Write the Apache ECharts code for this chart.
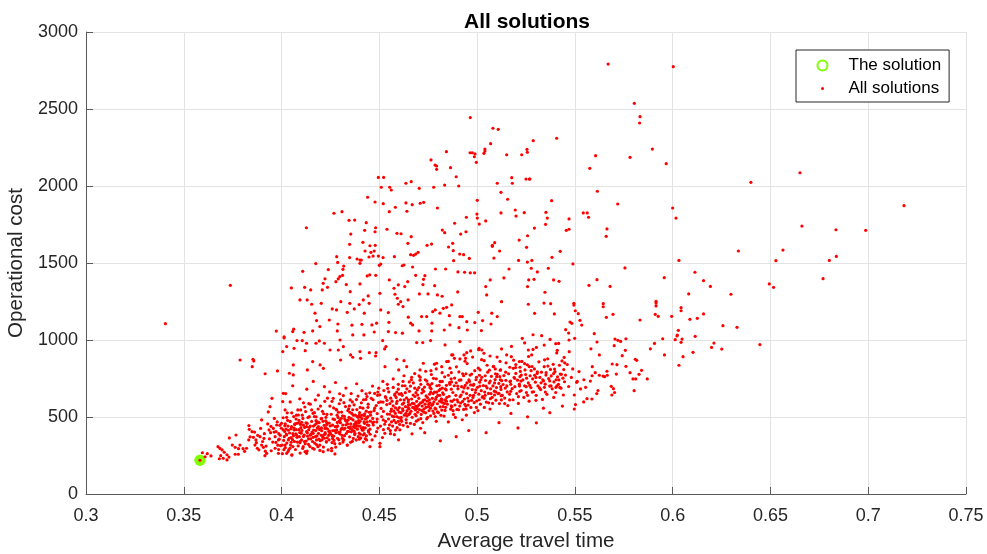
<!DOCTYPE html>
<html>
<head>
<meta charset="utf-8">
<script src="https://cdn.jsdelivr.net/npm/echarts@6/dist/echarts.min.js"></script>
<style>
  html, body { margin: 0; padding: 0; background: #fff; }
  #chart { width: 987px; height: 554px; }
</style>
</head>
<body>
<div id="chart"></div>
<script>
// x tick values of the axis
const xTicks = [0.3, 0.35, 0.4, 0.45, 0.5, 0.55, 0.6, 0.65, 0.7, 0.75];
const yTicks = [0, 500, 1000, 1500, 2000, 2500, 3000];

// the chosen solution [travel time, cost]
const solution = [[0.3583, 219]];

// sparse points, upper part of the cloud
const upperPoints = [
  [0.567,2792],[0.6003,2775],[0.5804,2537],[0.5833,2450],[0.5831,2409],[0.5287,2294],[0.5407,2310],[0.5896,2240],
  [0.5606,2197],[0.5782,2186],[0.5967,2145],[0.5576,2115],[0.527,2045],[0.640,2024],[0.5615,1966],[0.5381,1905],
  [0.5719,1883],[0.5352,1829],[0.5543,1825],[0.5563,1825],[0.5359,1792],[0.547,1786],[0.557,1797],[0.600,1857],
  [0.6017,1792],[0.6651,2086],[0.7183,1872],[0.6661,1740],[0.6835,1716],[0.6987,1712],[0.6564,1584],[0.6528,1515],
  [0.6837,1543],[0.6801,1517],[0.6769,1398],[0.6494,1364],[0.6516,1342],[0.6446,970],[0.3738,1355],[0.3406,1106],
  [0.3973,1058],[0.4965,2444],[0.5081,2375],[0.5108,2368],[0.5069,2275],[0.4843,2223],[0.4964,2216],[0.4975,2216],
  [0.4989,2208],[0.4986,2190],[0.5035,2212],[0.504,2227],[0.504,2240],[0.5151,2203],[0.5228,2203],[0.5255,2238],
  [0.5257,2219],[0.4996,2154],[0.4764,2169],[0.4785,2136],[0.4793,2130],[0.4793,2108],[0.4864,2119],[0.4893,2060],
  [0.5177,2054],[0.518,2018],[0.525,2045],[0.5267,2045],[0.4495,2056],[0.4522,2056],[0.451,1992],[0.4553,1992],
  [0.4561,1974],[0.4636,2018],[0.4663,2028],[0.4704,1985],[0.4778,1992],[0.4834,2006],[0.4906,2000],[0.5103,2018],
  [0.5122,1959],[0.444,1927],[0.4478,1896],[0.452,1885],[0.4582,1862],[0.4551,1833],[0.4636,1890],[0.4668,1879],
  [0.4709,1888],[0.4727,1894],[0.4641,1836],[0.4797,1857],[0.5001,1907],[0.5156,1914],[0.5122,1825],[0.5195,1844],
  [0.5199,1805],[0.5241,1827],[0.4268,1823],[0.4309,1833],[0.4345,1777],[0.4374,1779],[0.4433,1762],[0.4481,1729],
  [0.4478,1703],[0.4425,1712],[0.4127,1729],[0.4354,1688],[0.4539,1719],[0.459,1693],[0.4611,1690],[0.4663,1671],
  [0.4646,1628],[0.4822,1714],[0.4834,1697],[0.4885,1758],[0.4945,1797],[0.4943,1703],[0.4999,1818],[0.5001,1792],
  [0.5011,1753],[0.5044,1773],[0.4916,1688],[0.4875,1628],[0.4854,1604],[0.4767,1623],[0.4744,1615],[0.4878,1580],
  [0.4911,1558],[0.4931,1554],[0.496,1530],[0.488,1515],[0.5078,1615],[0.509,1632],[0.5078,1608],[0.5115,1578],
  [0.5086,1532],[0.5215,1649],[0.5253,1602],[0.5258,1677],[0.5212,1517],[0.5257,1506],[0.5163,1461],[0.466,1554],
  [0.4675,1550],[0.4686,1558],[0.4698,1569],[0.4577,1541],[0.4617,1482],[0.4626,1487],[0.467,1474],[0.4787,1461],
  [0.4839,1461],[0.4348,1621],[0.4416,1634],[0.4452,1612],[0.4479,1615],[0.4457,1569],[0.4474,1578],[0.4468,1545],
  [0.4447,1539],[0.4495,1545],[0.4507,1493],[0.45,1485],[0.4519,1535],[0.4348,1535],[0.4282,1541],[0.4287,1504],
  [0.4386,1526],[0.4401,1519],[0.4408,1519],[0.4401,1498],[0.4318,1480],[0.4314,1459],[0.4175,1496],[0.4239,1457],
  [0.4427,1578]
];

// right-hand middle part (x above ~0.527)
const rightPoints = [
  [0.5293,1727],[0.535,1751],[0.5456,1712],[0.547,1719],[0.5664,1721],[0.566,1673],[0.6336,1578],[0.5425,1576],
  [0.5383,1537],[0.528,1517],[0.6032,1517],[0.549,1494],[0.5277,1466],[0.5308,1442],[0.5364,1466],[0.5756,1468],
  [0.6114,1440],[0.5957,1405],[0.5291,1394],[0.5391,1390],[0.5419,1381],[0.5613,1392],[0.6158,1385],[0.5572,1355],
  [0.568,1348],[0.6193,1348],[0.5347,1310],[0.6298,1297],[0.6082,1299],[0.5342,1240],[0.5376,1236],[0.5495,1238],
  [0.5495,1227],[0.5645,1236],[0.5645,1216],[0.5915,1251],[0.5915,1240],[0.5915,1221],[0.6043,1210],[0.6043,1190],
  [0.5294,1173],[0.5395,1169],[0.5502,1190],[0.5517,1171],[0.5695,1167],[0.5661,1147],[0.5911,1167],[0.5926,1154],
  [0.5995,1154],[0.6088,1134],[0.6126,1141],[0.6158,1169],[0.5833,1130],[0.5526,1128],[0.5535,1097],[0.5475,1117],
  [0.5484,1108],[0.6257,1093],[0.6329,1082],[0.5453,1067],[0.6029,1063],[0.6024,1032],[0.6022,1026],[0.6115,1024],
  [0.5599,1041],[0.5468,1045],[0.533,1028],[0.5286,1034],[0.5499,1011],[0.547,1000],[0.5373,1004],[0.5705,1006],
  [0.572,998],[0.5734,991],[0.5761,1008],[0.5949,1008],[0.6013,1002],[0.6048,1006],[0.6043,985],[0.6211,980],
  [0.6199,952],[0.6251,941],[0.5613,987],[0.5402,976],[0.5417,978],[0.5343,967],[0.5286,939],[0.541,933],
  [0.5471,924],[0.5582,943],[0.5701,963],[0.5758,933],[0.5886,943],[0.5907,978],[0.5958,903],[0.6104,920],
  [0.6053,892],[0.6032,836],[0.5625,903],[0.5742,898],[0.5809,875],[0.5816,868],[0.5691,844],[0.5715,840],
  [0.5589,827],[0.5761,829],[0.5841,803],[0.5782,788],[0.5664,797],[0.5666,771],[0.5652,762],[0.5644,766],
  [0.5604,788],[0.5588,768],[0.5625,771],[0.5712,779],[0.5828,777],[0.5797,747],[0.5811,747],[0.587,747],
  [0.5686,699],[0.5697,684],[0.5555,693],[0.5509,725],[0.5403,693],[0.5612,652],[0.5587,617],[0.5689,643],
  [0.5545,598],[0.5503,581]
];

// middle scatter between the band and the upper points
const midPoints = [
  [0.4108,1446],[0.4222,1397],[0.4278,1379],[0.429,1397],[0.4298,1412],[0.4312,1420],[0.4213,1368],[0.4235,1342],
  [0.4208,1325],[0.4331,1360],[0.4351,1314],[0.4401,1364],[0.4438,1416],[0.4451,1423],[0.4482,1420],[0.405,1338],
  [0.4118,1342],[0.4149,1325],[0.4551,1390],[0.4597,1358],[0.4575,1336],[0.4645,1379],[0.463,1347],[0.4686,1420],
  [0.4733,1418],[0.4726,1394],[0.4723,1360],[0.4783,1353],[0.4902,1442],[0.4936,1440],[0.4965,1436],[0.4987,1436],
  [0.5067,1390],[0.5137,1403],[0.5044,1347],[0.5264,1390],[0.5258,1347],[0.4901,1312],[0.4821,1284],[0.4797,1293],
  [0.4749,1299],[0.4705,1299],[0.458,1297],[0.4592,1271],[0.4597,1232],[0.4609,1249],[0.4621,1217],[0.4647,1260],
  [0.4503,1303],[0.4443,1286],[0.4418,1260],[0.4448,1238],[0.4397,1230],[0.4349,1238],[0.4303,1249],[0.4203,1238],
  [0.4154,1232],[0.4131,1260],[0.4094,1260],[0.4259,1202],[0.4281,1195],[0.4336,1180],[0.4372,1202],[0.4423,1174],
  [0.4507,1195],[0.4546,1178],[0.4171,1174],[0.4179,1126],[0.4244,1130],[0.4288,1104],[0.4196,1087],[0.4159,1059],
  [0.4115,1050],[0.4062,1070],[0.4057,1055],[0.436,1096],[0.4411,1102],[0.4462,1098],[0.4486,1109],[0.4474,1052],
  [0.4421,1033],[0.4364,1033],[0.4285,1059],[0.4549,1115],[0.4546,1055],[0.4583,1048],[0.4618,1044],[0.4648,1148],
  [0.466,1109],[0.467,1098],[0.4703,1059],[0.4716,1152],[0.4742,1152],[0.4773,1184],[0.4786,1195],[0.4827,1206],
  [0.4844,1212],[0.487,1228],[0.481,1174],[0.4858,1158],[0.4769,1109],[0.4768,1059],[0.4832,1065],[0.4861,1098],
  [0.4912,1152],[0.4924,1152],[0.4947,1119],[0.4907,1080],[0.495,1065],[0.4988,1113],[0.5006,1180],[0.5028,1126],
  [0.5075,1174],[0.5071,1104],[0.5103,1152],[0.5125,1249],[0.5049,1293],[0.5262,1232],[0.5231,1011],[0.5022,1061],
  [0.4006,925],[0.4026,957],[0.4064,946],[0.4079,996],[0.4106,996],[0.4121,931],[0.4128,979],[0.4176,979],
  [0.4193,994],[0.4219,979],[0.4248,935],[0.4299,1000],[0.429,935],[0.4316,957],[0.4302,870],[0.4197,838],
  [0.4214,816],[0.4159,860],[0.4132,806],[0.406,838],[0.404,784],[0.406,773],[0.4353,903],[0.4364,888],
  [0.4404,881],[0.4401,925],[0.4449,918],[0.4483,918],[0.4481,896],[0.4517,996],[0.4534,957],[0.4527,942],
  [0.4589,875],[0.4626,866],[0.4529,827],[0.4599,806],[0.464,827],[0.4691,983],[0.4722,983],[0.4762,996],
  [0.4836,968],[0.4844,860],[0.487,903],[0.4884,881],[0.4912,990],[0.4933,903],[0.4941,881],[0.4967,929],
  [0.501,946],[0.5024,935],[0.5035,914],[0.5066,896],[0.5125,942],[0.5151,903],[0.5216,860],[0.5262,935],
  [0.4725,849],[0.4793,849],[0.4819,827],[0.4764,801],[0.4708,806],[0.4665,758],[0.5015,806],[0.5083,827],
  [0.512,806],[0.5185,816],[0.5219,823],[0.5245,806],[0.5267,827],[0.51,762],[0.5168,730],[0.5219,762],
  [0.3788,870],[0.3854,875],[0.3858,864],[0.385,827],[0.3916,781],[0.3979,799],[0.4013,1021],[0.4013,1013],
  [0.4021,652],[0.4057,703],[0.4093,618],[0.4129,681],[0.4162,731],[0.4188,642],[0.4219,697],[0.4246,663],
  [0.4276,724],[0.4302,611],[0.4329,688],[0.4356,652],[0.4384,716],[0.4411,671],[0.4437,633],[0.4465,701],
  [0.4492,662],[0.4518,731],[0.4543,686],[0.4571,747],[0.4597,712],[0.4626,768],[0.4653,728],[0.4681,782],
  [0.4709,758],[0.4737,797],[0.4766,776],[0.4791,812],[0.4821,788],[0.4853,861],[0.4876,903],[0.4912,877],
  [0.4947,918],[0.4977,889],[0.5008,937],[0.4044,598],[0.4112,592],[0.4173,611],[0.4235,622],[0.4297,651],
  [0.4362,598],[0.4419,612],[0.4476,653],[0.4531,632],[0.4589,661],[0.4641,683],[0.4702,691],[0.4758,706],
  [0.4811,731],[0.4867,748],[0.4926,781],[0.4988,801],[0.5051,836],[0.5117,861],[0.5176,958],[0.5243,981],
  [0.5303,952]
];

// dense band, left part (x up to ~0.455)
const bandLeft = [
  [0.3595,268],[0.362,262],[0.3609,242],[0.3639,247],[0.3675,307],[0.3685,296],[0.3696,286],[0.3707,271],
  [0.3689,249],[0.3682,229],[0.3702,232],[0.3721,255],[0.3731,240],[0.3721,221],[0.3733,364],[0.3767,383],
  [0.3748,318],[0.3763,303],[0.378,294],[0.3803,294],[0.3811,277],[0.3779,258],[0.3763,258],[0.3787,318],
  [0.3832,351],[0.3835,420],[0.3849,405],[0.3833,444],[0.3869,351],[0.3864,318],[0.3876,297],[0.3821,297],
  [0.3856,368],[0.389,372],[0.3898,318],[0.3907,303],[0.3915,249],[0.3924,264],[0.391,361],[0.3936,416],
  [0.3944,398],[0.3898,481],[0.3932,533],[0.3951,621],[0.3941,567],[0.3967,372],[0.3984,351],[0.3995,314],
  [0.3967,297],[0.3984,264],[0.3958,426],[0.3975,448],[0.4,459],[0.4009,654],[0.4006,600],[0.4018,546],
  [0.4026,498],[0.4009,416],[0.4026,383],[0.4035,351],[0.4018,318],[0.4043,297],[0.4026,264],[0.4052,253],
  [0.4064,416],[0.4077,459],[0.4086,513],[0.4098,546],[0.4077,383],[0.4094,340],[0.4111,307],[0.412,275],
  [0.4128,437],[0.4142,502],[0.4154,546],[0.4162,394],[0.4179,351],[0.4196,318],[0.4213,275],[0.4179,459],
  [0.4205,491],[0.4222,426],[0.4248,394],[0.4261,361],[0.4256,297],[0.4282,416],[0.4299,481],[0.4282,546],
  [0.4316,351],[0.4336,318],[0.435,426],[0.4375,394],[0.4384,459],[0.4398,513],[0.4418,416],[0.4435,351],
  [0.4452,307],[0.4469,448],[0.4486,405],[0.4503,329],[0.452,481],[0.4546,426],[0.4256,281],[0.4273,260],
  [0.4128,264],[0.4503,307],
  [0.3962,402],[0.3971,335],[0.3978,468],[0.3985,289],[0.3993,381],[0.3999,427],[0.4004,262],[0.4008,495],
  [0.4011,348],[0.4017,443],[0.4019,301],[0.4024,389],[0.4029,527],[0.4033,276],[0.4035,414],[0.4039,362],
  [0.4044,471],[0.4046,318],[0.4051,437],[0.4053,254],[0.4058,392],[0.4062,503],[0.4066,341],[0.4068,455],
  [0.4071,289],[0.4075,418],[0.4079,368],[0.4083,546],[0.4085,312],[0.4089,478],[0.4093,399],[0.4095,266],
  [0.4099,431],[0.4102,351],[0.4106,512],[0.4108,296],[0.4112,447],[0.4116,383],[0.4119,565],[0.4121,327],
  [0.4125,462],[0.4128,405],[0.4131,279],[0.4135,496],[0.4138,358],[0.4142,433],[0.4145,308],[0.4147,583],
  [0.4151,387],[0.4154,471],[0.4158,341],[0.4161,524],[0.4164,415],[0.4167,292],[0.4171,449],[0.4173,372],
  [0.4177,501],[0.4179,321],[0.4183,428],[0.4187,552],[0.4189,394],[0.4192,463],[0.4196,283],[0.4198,346],
  [0.4202,488],[0.4205,411],[0.4209,537],[0.4211,369],[0.4214,305],[0.4218,446],[0.4221,602],[0.4223,398],
  [0.4226,475],[0.4229,337],[0.4232,517],[0.4235,422],[0.4238,286],[0.4241,381],[0.4244,461],[0.4247,571],
  [0.3988,356],[0.4014,372],[0.4027,331],[0.4041,396],[0.4056,353],[0.4064,428],[0.4081,337],[0.4091,372],
  [0.4104,413],[0.4117,341],[0.4133,376],[0.4149,358],[0.4156,402],[0.4169,331],[0.4181,377],[0.4194,419],
  [0.4207,352],[0.4216,384],[0.4227,431],[0.4243,352],[0.4003,318],[0.4037,287],[0.4073,391],[0.4097,452],
  [0.4126,344],[0.4163,441],[0.4186,307],[0.4212,472],[0.4233,365],[0.4019,455],
  [0.4251,392],[0.4254,518],[0.4258,334],[0.4261,447],[0.4264,621],[0.4267,376],[0.4271,483],[0.4273,412],
  [0.4277,305],[0.4279,549],[0.4283,438],[0.4286,362],[0.4289,497],[0.4292,401],[0.4295,586],[0.4298,327],
  [0.4301,463],[0.4304,419],[0.4307,532],[0.4309,381],[0.4313,448],[0.4316,639],[0.4318,352],[0.4321,505],
  [0.4324,427],[0.4327,568],[0.4331,393],[0.4333,471],[0.4336,318],[0.4339,542],[0.4342,433],[0.4345,498],
  [0.4348,371],[0.4351,611],[0.4354,455],[0.4357,404],[0.4359,523],[0.4362,342],[0.4366,481],[0.4368,437],
  [0.4371,579],[0.4374,386],[0.4377,512],[0.4379,462],[0.4382,351],[0.4385,548],[0.4388,421],[0.4391,636],
  [0.4394,476],[0.4397,395],[0.4399,529],[0.4402,441],[0.4405,364],[0.4408,592],[0.4411,489],[0.4413,414],
  [0.4416,557],[0.4419,337],[0.4422,468],[0.4425,521],[0.4428,429],[0.4431,614],[0.4434,378],[0.4437,494],
  [0.4439,449],[0.4442,563],[0.4445,402],[0.4448,531],[0.4451,657],[0.4454,473],
  [0.4262,412],[0.4285,465],[0.4297,391],[0.4312,508],[0.4329,449],[0.4343,406],[0.4356,489],[0.4372,452],
  [0.4387,502],[0.4401,473],[0.4417,431],[0.4429,487],[0.4446,446],[0.4275,437],[0.4322,379],[0.4361,418],
  [0.4393,441],[0.4423,392],[0.4306,492],[0.4349,531],[0.4381,469],[0.4412,512],[0.4441,503],[0.4268,348],
  [0.4338,456],[0.4403,388],[0.4452,421],[0.4291,531],[0.4364,547],[0.4433,538]
];

// dense band, right part (x from ~0.455)
const bandRight = [
  [0.4556,412],[0.4559,537],[0.4562,468],[0.4565,603],[0.4568,441],[0.4571,572],[0.4574,502],[0.4577,385],
  [0.4579,649],[0.4582,523],[0.4585,463],[0.4588,588],[0.4591,431],[0.4594,547],[0.4597,681],[0.4599,496],
  [0.4602,561],[0.4605,417],[0.4608,612],[0.4611,528],[0.4614,472],[0.4617,641],[0.4619,553],[0.4622,446],
  [0.4625,591],[0.4628,512],[0.4631,703],[0.4634,567],[0.4637,483],[0.4639,624],[0.4642,541],[0.4645,437],
  [0.4648,598],[0.4651,516],[0.4654,667],[0.4657,579],[0.4659,459],[0.4662,537],[0.4665,617],[0.4668,498],
  [0.4671,562],[0.4674,721],[0.4677,587],[0.4679,452],[0.4682,633],[0.4685,546],[0.4688,508],[0.4691,602],
  [0.4694,676],[0.4697,571],[0.4699,481],[0.4702,621],[0.4705,548],[0.4708,739],[0.4711,592],[0.4714,517],
  [0.4717,656],[0.4719,571],[0.4722,464],[0.4725,608],[0.4728,552],[0.4731,694],[0.4734,583],[0.4737,527],
  [0.4739,637],[0.4742,488],[0.4745,603],[0.4748,713],[0.4751,567],[0.4754,541],[0.4757,648],[0.4759,592],
  [0.4762,508],[0.4765,683],[0.4768,576],[0.4771,621],[0.4774,539],[0.4777,751],[0.4779,598],[0.4782,662],
  [0.4785,557],[0.4788,615],[0.4791,472],[0.4794,703],[0.4797,586],[0.4799,640],[0.4802,528],[0.4805,672],
  [0.4808,603],[0.4811,566],[0.4814,729],[0.4817,618],[0.4819,545],[0.4822,687],[0.4825,592],[0.4828,647],
  [0.4831,506],[0.4834,761],[0.4837,611],[0.4839,563],[0.4842,676],[0.4845,627],[0.4848,583],
  [0.4566,506],[0.4583,559],[0.4601,532],[0.4618,583],[0.4636,524],[0.4652,553],[0.4669,589],[0.4686,571],
  [0.4703,581],[0.4721,597],[0.4738,562],[0.4756,612],[0.4773,583],[0.4791,628],[0.4809,641],[0.4826,568],
  [0.4843,603],[0.4575,478],[0.4612,497],[0.4647,561],[0.4683,518],[0.4718,541],[0.4753,583],[0.4789,552],
  [0.4821,612],
  [0.4853,468],[0.4857,634],[0.4861,712],[0.4865,551],[0.4868,788],[0.4872,602],[0.4876,659],[0.4879,517],
  [0.4883,703],[0.4887,578],[0.4891,641],[0.4894,826],[0.4898,612],[0.4902,683],[0.4905,547],[0.4909,739],
  [0.4913,632],[0.4916,591],[0.4921,697],[0.4924,482],[0.4928,663],[0.4931,768],[0.4935,617],[0.4939,705],
  [0.4942,571],[0.4946,652],[0.4949,847],[0.4953,688],[0.4957,603],[0.4961,731],[0.4964,641],[0.4968,562],
  [0.4972,779],[0.4975,678],[0.4979,627],[0.4983,712],[0.4986,529],[0.4991,659],[0.4994,742],[0.4998,604],
  [0.5002,693],[0.5006,817],[0.5009,648],[0.5013,726],[0.5017,583],[0.5021,671],[0.5024,758],[0.5028,633],
  [0.5032,704],[0.5036,866],[0.5039,662],[0.5043,737],[0.5047,597],[0.5051,689],[0.5054,791],[0.5058,653],
  [0.5062,721],[0.5066,552],[0.5069,683],[0.5073,764],[0.5077,627],[0.5081,702],[0.5084,829],[0.5088,668],
  [0.5092,743],[0.5096,609],[0.5099,691],[0.5103,777],[0.5107,652],[0.5111,718],[0.5114,587],[0.5118,804],
  [0.5122,679],[0.5126,736],[0.5129,641],[0.5133,711],[0.5137,769],[0.5141,623],[0.5144,688],[0.5148,852],
  [0.4871,567],[0.4897,549],[0.4926,601],[0.4954,578],[0.4982,641],[0.5011,612],[0.5041,641],[0.5068,619],
  [0.5096,663],[0.5124,611],[0.4889,497],[0.4945,512],[0.5004,541],[0.5059,592],[0.5112,653],
  [0.5152,702],[0.5157,574],[0.5161,781],[0.5166,648],[0.5171,733],[0.5175,892],[0.5179,684],[0.5184,612],
  [0.5189,757],[0.5193,697],[0.5197,821],[0.5202,652],[0.5207,739],[0.5211,588],[0.5216,713],[0.5221,796],
  [0.5225,672],[0.5229,861],[0.5234,741],[0.5239,627],[0.5243,703],[0.5248,776],[0.5252,659],[0.5257,839],
  [0.5262,721],[0.5266,603],[0.5271,768],[0.5275,691],[0.5279,903],[0.5284,747],[0.5289,664],[0.5293,812],
  [0.5298,726],[0.5302,641],[0.5307,783],[0.5311,702],[0.5316,858],[0.5321,757],[0.5325,678],[0.5329,791],
  [0.5334,614],[0.5339,734],[0.5343,827],[0.5348,713],[0.5352,772],[0.5357,647],[0.5361,878],[0.5366,749],
  [0.5371,701],[0.5375,809],[0.5379,767],[0.5384,683],[0.5389,842],[0.5393,728],[0.5398,794],[0.5402,659],
  [0.5407,916],[0.5411,761],[0.5416,712],[0.5421,836],[0.5425,779],[0.5429,687],[0.5434,864],[0.5439,752],
  [0.5443,808],[0.5447,729],
  [0.5452,772],[0.5461,841],[0.5468,698],[0.5482,757],[0.5489,812],[0.5497,643],[0.5512,731],[0.5521,795],
  [0.5529,682],[0.5546,742],[0.5562,619],[0.5579,733],[0.5618,672],[0.5703,659],[0.5803,671],
  [0.4812,345],[0.4893,372],[0.4957,412],[0.5046,398],[0.5112,463],[0.5209,429],[0.5258,501],[0.5303,462],
  [0.5372,528],[0.5436,571],[0.5497,552],[0.4732,398],[0.4667,391],[0.4598,352],[0.4711,427],[0.5173,523],
  [0.5339,557]
];

// more points inside the band, left half
const bandFillLeft = [
  [0.4023,422],[0.4058,308],[0.4087,461],[0.4112,374],[0.4139,417],[0.4168,503],[0.4191,356],[0.4224,389],
  [0.4249,442],[0.4272,327],[0.4299,402],[0.4327,478],[0.4353,336],[0.4376,431],[0.4402,501],[0.4428,359],
  [0.4453,388],[0.4471,467],[0.4489,522],[0.4506,441],[0.4528,394],[0.4547,487],[0.4562,552],[0.4583,415],
  [0.4591,603],[0.4012,288],[0.4049,366],[0.4076,512],[0.4101,395],[0.4131,458],[0.4159,297],[0.4184,468],
  [0.4215,521],[0.4242,407],[0.4266,559],[0.4293,352],[0.4319,421],[0.4347,572],[0.4371,408],[0.4398,356],
  [0.4424,459],[0.4457,532],[0.4478,377],[0.4496,594],[0.4512,503],[0.4533,626],[0.4552,449],[0.4574,538],
  [0.4597,472],[0.4468,612],[0.4487,468],[0.4509,556],[0.4521,418],[0.4538,581],[0.4557,392],[0.4579,641],
  [0.4463,351],[0.4492,428],[0.4516,367],[0.4541,519],[0.4473,541],[0.4502,644],[0.4519,597],[0.4548,663],
  [0.4466,491],[0.4484,574],[0.4527,453],[0.4558,622],[0.4031,478],[0.4067,451],[0.4094,333],[0.4123,535],
  [0.4146,382],[0.4175,412],[0.4203,381],[0.4231,464],[0.4259,379],[0.4287,442],[0.4311,362],[0.4341,481],
  [0.4367,361],[0.4392,498],[0.4418,383],[0.4444,411],[0.4139,587],[0.4199,571],[0.4258,602],[0.4319,593],
  [0.4383,613],[0.4432,651],[0.4497,687],[0.4541,712],
  [0.3862,402],[0.3871,333],[0.3884,287],[0.3893,426],[0.3903,341],[0.3912,392],[0.3921,311],[0.3929,455],
  [0.3938,358],[0.3947,281],[0.3955,337],[0.3963,491],[0.3972,405],[0.3981,317],[0.3991,446],[0.3839,371],
  [0.3878,381],[0.3917,278],[0.3946,439],[0.3986,392],
  [0.4016,406],[0.4033,441],[0.4048,423],[0.4061,378],[0.4074,487],[0.4089,418],[0.4103,466],[0.4118,432],
  [0.4132,397],[0.4147,441],[0.4161,368],[0.4176,476],[0.4188,437],[0.4204,429],[0.4219,362],[0.4232,452],
  [0.4246,409],[0.4263,487],[0.4278,398],[0.4294,471],[0.4309,428],[0.4323,488],[0.4338,407],[0.4352,436],
  [0.4367,512],[0.4381,442],[0.4396,462],[0.4409,427],[0.4424,508],[0.4438,469],[0.4052,527],[0.4109,491],
  [0.4168,528],[0.4227,498],[0.4284,512],[0.4343,553],[0.4402,562],[0.4049,336],[0.4138,322],[0.4229,341],
  [0.4314,337],[0.4392,372]
];

// more points inside the band, right half
const bandFillRight = [
  [0.4612,652],[0.4638,462],[0.4659,701],[0.4687,658],[0.4712,489],[0.4735,742],[0.4763,661],[0.4786,503],
  [0.4811,681],[0.4836,543],[0.4859,723],[0.4882,612],[0.4907,793],[0.4931,549],[0.4958,741],[0.4985,593],
  [0.5012,771],[0.5037,562],[0.5063,804],[0.5089,721],[0.5116,762],[0.5141,587],[0.5167,823],[0.5192,751],
  [0.5218,667],[0.5243,847],[0.5269,705],[0.5294,771],[0.5319,689],[0.5345,871],[0.5371,734],[0.5396,811],
  [0.5423,692],[0.5448,852],[0.4627,611],[0.4649,579],[0.4673,643],[0.4696,531],[0.4721,679],[0.4746,626],
  [0.4769,717],[0.4793,661],[0.4817,598],[0.4843,706],[0.4868,681],[0.4893,722],[0.4918,643],[0.4943,781],
  [0.4967,708],[0.4993,677],[0.5019,742],[0.5045,701],[0.5071,652],[0.5094,781],[0.5121,697],[0.5147,738],
  [0.5172,667],[0.5198,783],[0.5224,733],[0.5251,697],[0.5276,801],[0.5301,757],[0.5327,722],[0.5353,788],
  [0.5378,702],[0.5404,742],[0.5431,777],[0.4604,452],[0.4641,507],[0.4689,473],[0.4732,612],[0.4779,523],
  [0.4824,657],[0.4866,604],[0.4911,571],[0.4952,623],[0.4996,562],[0.5036,621],[0.5079,588],[0.5123,638],
  [0.5166,611],[0.5211,632],[0.5258,641],[0.5301,608],[0.5349,662],[0.5392,627],[0.5441,643],[0.4621,731],
  [0.4703,768],[0.4782,843],[0.4861,817],[0.4938,862],[0.5023,872],[0.5102,889],[0.5187,869],[0.5263,893],
  [0.4443,583],[0.4459,621],[0.4476,557],[0.4491,641],[0.4507,598],[0.4523,672],[0.4539,608],[0.4554,587],
  [0.4571,692],[0.4586,627],[0.4602,648],[0.4618,703],[0.4633,658],[0.4649,612],[0.4664,742],[0.4681,687],
  [0.4696,643],[0.4712,712],[0.4727,667],[0.4743,733],[0.4759,691],[0.4775,652],[0.4791,748],[0.4806,706],
  [0.4822,731],[0.4838,682],[0.4853,771],[0.4869,728],[0.4885,753],[0.4901,701],[0.4917,741],[0.4933,689],
  [0.4948,721],[0.4964,772],[0.4981,706],[0.4997,758],[0.4455,512],[0.4489,487],[0.4521,536],[0.4553,518],
  [0.4589,503],[0.4621,542],[0.4656,523],[0.4692,556],[0.4727,532],[0.4762,557],[0.4797,533],[0.4833,588],
  [0.4868,572],[0.4902,598],[0.4937,582],[0.4972,608],[0.4466,462],[0.4532,471],[0.4611,482],[0.4678,557],
  [0.4747,497],[0.4815,511],[0.4877,541],[0.4944,552],
  [0.5014,701],[0.5041,768],[0.5067,733],[0.5093,812],[0.5119,742],[0.5146,791],[0.5172,712],[0.5198,841],
  [0.5226,772],[0.5253,752],[0.5281,828],[0.5308,793],[0.5336,742],[0.5362,831],[0.5391,782],[0.5418,741],
  [0.5445,887],[0.5027,628],[0.5089,643],[0.5154,663],[0.5217,701],[0.5282,662],[0.5344,693],[0.5408,703]
];

const allSolutions = [].concat(solution, upperPoints, rightPoints, midPoints,
  bandLeft, bandRight, bandFillLeft, bandFillRight);

const FONT = '"Liberation Sans", Arial, Helvetica, sans-serif';
const AXIS_COLOR = '#5a5a5a';
const TEXT_COLOR = '#262626';
const GREEN = '#80ff00';

const chart = echarts.init(document.getElementById('chart'));
chart.setOption({
  animation: false,
  backgroundColor: '#fff',
  textStyle: { fontFamily: FONT },
  title: {
    text: 'All solutions',
    left: 459,
    top: 7,
    textStyle: { fontFamily: FONT, fontSize: 21, fontWeight: 'bold', color: '#000' }
  },
  legend: {
    orient: 'vertical',
    left: 796,
    top: 50,
    padding: [7, 8, 5, 18],
    itemWidth: 42,
    itemHeight: 10,
    itemGap: 6,
    borderColor: '#262626',
    borderWidth: 1,
    backgroundColor: '#fff',
    textStyle: { fontFamily: FONT, fontSize: 17, color: '#000' },
    data: [
      { name: 'The solution', icon: 'circle',
        itemStyle: { color: 'rgba(0,0,0,0)', borderColor: GREEN, borderWidth: 2 } },
      { name: 'All solutions', icon: 'circle',
        itemStyle: { color: '#ff0000', borderColor: '#fff', borderWidth: 7 } }
    ]
  },
  grid: { left: 86, right: 21, top: 32, bottom: 60, containLabel: false, outerBoundsMode: 'none' },
  xAxis: {
    type: 'value',
    min: xTicks[0],
    max: xTicks[xTicks.length - 1],
    interval: 0.05,
    name: 'Average travel time',
    nameLocation: 'middle',
    nameGap: 37,
    nameTextStyle: { fontFamily: FONT, fontSize: 20.6, color: TEXT_COLOR },
    axisLine: { show: true, lineStyle: { color: AXIS_COLOR, width: 1 } },
    axisTick: { show: true, inside: true, length: 7, lineStyle: { color: AXIS_COLOR } },
    axisLabel: {
      fontFamily: FONT, fontSize: 18, color: TEXT_COLOR, margin: 13,
      formatter: v => String(+v.toFixed(2))
    },
    splitLine: { show: true, lineStyle: { color: '#e3e3e3', width: 1 } }
  },
  yAxis: {
    type: 'value',
    min: yTicks[0],
    max: yTicks[yTicks.length - 1],
    interval: 500,
    name: 'Operational cost',
    nameLocation: 'middle',
    nameGap: 47,
    nameTextStyle: { fontFamily: FONT, fontSize: 20.6, color: TEXT_COLOR },
    axisLine: { show: true, lineStyle: { color: AXIS_COLOR, width: 1 } },
    axisTick: { show: true, inside: true, length: 7, lineStyle: { color: AXIS_COLOR } },
    axisLabel: { fontFamily: FONT, fontSize: 18, color: TEXT_COLOR, margin: 8, formatter: v => String(v) },
    splitLine: { show: true, lineStyle: { color: '#e3e3e3', width: 1 } }
  },
  series: [
    {
      name: 'The solution',
      type: 'scatter',
      data: solution,
      symbol: 'circle',
      symbolSize: 7,
      itemStyle: { color: 'rgba(0,0,0,0)', borderColor: GREEN, borderWidth: 4.5, opacity: 1 },
      emphasis: { disabled: true },
      z: 2
    },
    {
      name: 'All solutions',
      type: 'scatter',
      data: allSolutions,
      symbol: 'circle',
      symbolSize: 3.2,
      itemStyle: { color: '#ff0000', opacity: 1 },
      emphasis: { disabled: true },
      z: 3
    }
  ]
});
</script>
</body>
</html>
